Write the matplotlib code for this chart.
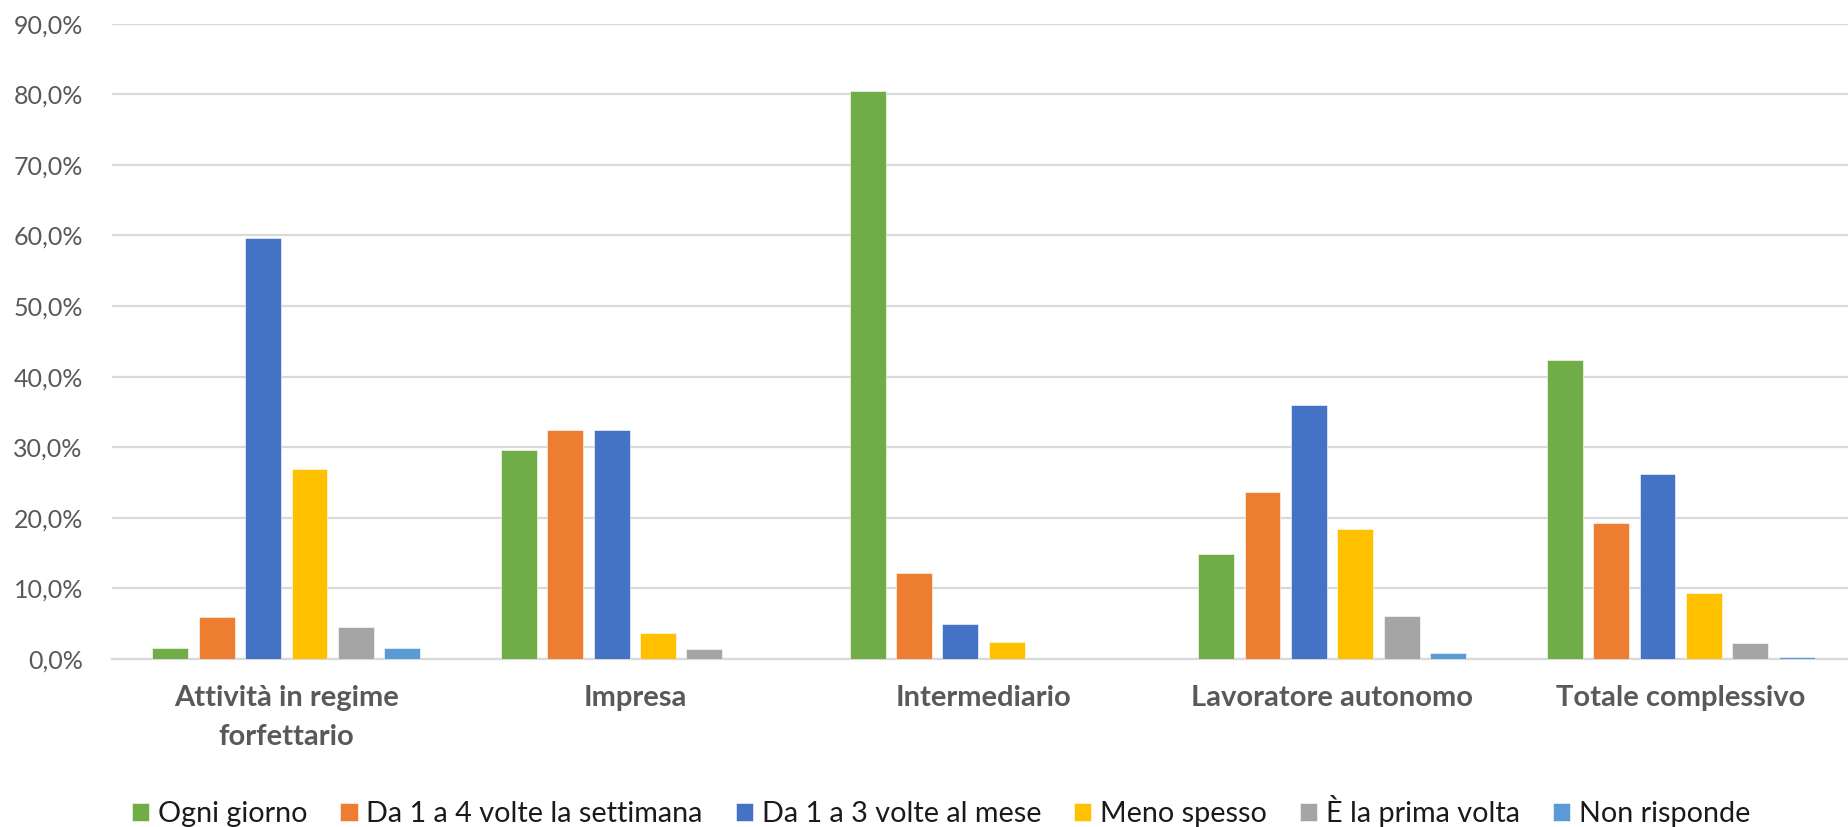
import matplotlib

matplotlib.use("Agg")
import matplotlib.pyplot as plt
import numpy as np
from matplotlib.ticker import FuncFormatter

categories = [
    "Attività in regime\nforfettario",
    "Impresa",
    "Intermediario",
    "Lavoratore autonomo",
    "Totale complessivo",
]
series_names = [
    "Ogni giorno",
    "Da 1 a 4 volte la settimana",
    "Da 1 a 3 volte al mese",
    "Meno spesso",
    "È la prima volta",
    "Non risponde",
]
ogni_giorno = [1.5, 29.6, 80.5, 14.9, 42.4]
settimana = [6.0, 32.5, 12.2, 23.7, 19.2]
mese = [59.7, 32.5, 4.9, 36.0, 26.2]
meno_spesso = [26.9, 3.7, 2.4, 18.4, 9.4]
prima_volta = [4.5, 1.4, 0.0, 6.1, 2.2]
non_risponde = [1.5, 0.0, 0.0, 0.8, 0.35]

series = [ogni_giorno, settimana, mese, meno_spesso, prima_volta, non_risponde]
colors = ["#70AD47", "#ED7D31", "#4472C4", "#FFC000", "#A5A5A5", "#5B9BD5"]

TEXT = "#595959"
GRID = "#D9D9D9"

plt.rcParams.update({"font.family": ["Lato", "DejaVu Sans"]})

fig = plt.figure(figsize=(18.48, 8.27), dpi=100, facecolor="white")
ax = fig.add_axes([112 / 1848, 168 / 827, 1 - 112 / 1848, 635.4 / 827])

x = np.arange(len(categories))
step = 0.133
width = 0.103
for i, (name, values, color) in enumerate(zip(series_names, series, colors)):
    offset = (i - 2.5) * step
    ax.bar(x + offset, values, width=width, color=color, label=name,
           edgecolor="white", linewidth=0.4, zorder=3)

ax.set_xlim(-0.5, 4.48)
ax.set_ylim(0, 90)
ax.set_yticks(np.arange(0, 91, 10))
ax.yaxis.set_major_formatter(FuncFormatter(lambda v, _: f"{v:.1f}%".replace(".", ",")))
ax.grid(axis="y", color=GRID, linewidth=1.6, zorder=0)
ax.set_axisbelow(True)

ax.set_xticks(x, categories)
for label in ax.get_xticklabels():
    label.set_fontweight("bold")
    label.set_linespacing(1.6)
ax.tick_params(axis="x", length=0, pad=19, labelsize=21, labelcolor=TEXT)
ax.tick_params(axis="y", length=0, pad=21, labelsize=18, labelcolor=TEXT)

for side in ("top", "right", "left"):
    ax.spines[side].set_visible(False)
ax.spines["bottom"].set_color(GRID)
ax.spines["bottom"].set_linewidth(1.6)

fig.legend(loc="center", bbox_to_anchor=(941 / 1848, 1 - 811 / 827), ncol=6,
           frameon=False, fontsize=20.7, handlelength=0.6, handleheight=0.6,
           handletextpad=0.3, columnspacing=1.15, labelcolor="#1a1a1a")

fig.savefig("out.png", dpi=100, facecolor="white")
